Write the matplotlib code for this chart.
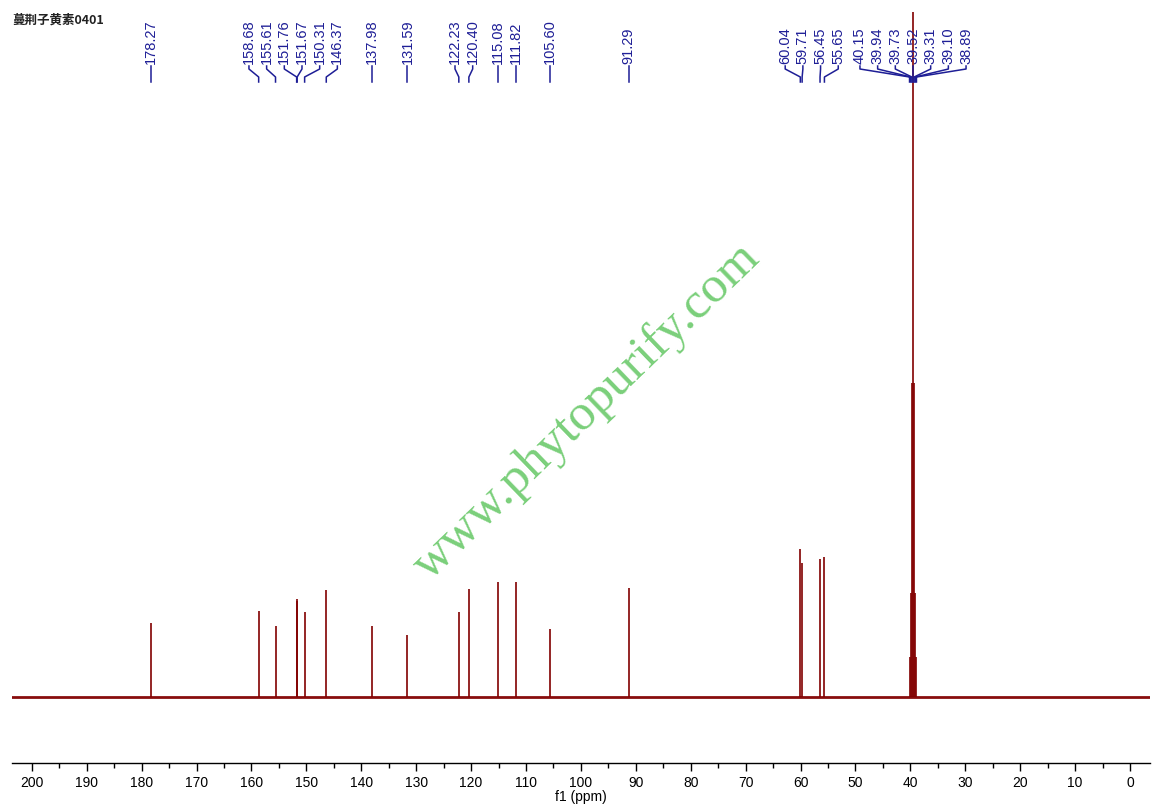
"""13C NMR spectrum of vitexicarpin with peak labels"""
import matplotlib
matplotlib.use('Agg')
import matplotlib.pyplot as plt
import matplotlib.transforms as mtransforms
from matplotlib.lines import Line2D
from matplotlib.ticker import MultipleLocator

W, H = 1159, 805

title = '蔓荆子黄素0401'
x_label = 'f1 (ppm)'
watermark = 'www.phytopurify.com'

# peak shifts (ppm) and heights (arbitrary units)
peak_ppm = [178.27, 158.68, 155.61, 151.76, 151.67, 150.31, 146.37, 137.98,
            131.59, 122.23, 120.40, 115.08, 111.82, 105.60, 91.29,
            60.04, 59.71, 56.45, 55.65,
            40.15, 39.94, 39.73, 39.52, 39.31, 39.10, 38.89]
peak_height = [74, 86, 71, 98, 96, 85, 107, 71,
               62, 85, 108, 115, 115, 68, 109,
               148, 134, 138, 140,
               40, 104, 314, 900, 314, 104, 40]

x_ticks = list(range(0, 201, 10))

SPEC_COLOR = '#820000'
LABEL_COLOR = '#1e1e96'
LABEL_GAP = 3.22  # ppm between neighbouring labels


def spread_labels(ppms, gap):
    """Push overlapping labels apart, keeping each cluster centred on its peaks"""
    clusters = [[p] for p in ppms]
    merged = True
    while merged:
        merged = False
        out = [clusters[0]]
        for c in clusters[1:]:
            prev = out[-1]
            prev_c = sum(prev) / len(prev)
            cur_c = sum(c) / len(c)
            prev_low = prev_c - (len(prev) - 1) * gap / 2
            cur_high = cur_c + (len(c) - 1) * gap / 2
            if prev_low - cur_high < gap:
                out[-1] = prev + c
                merged = True
            else:
                out.append(c)
        clusters = out
    pos = []
    for c in clusters:
        centre = sum(c) / len(c)
        top = centre + (len(c) - 1) * gap / 2
        pos += [top - i * gap for i in range(len(c))]
    return pos


plt.rcParams['font.family'] = ['Liberation Sans', 'DejaVu Sans']

fig = plt.figure(figsize=(W / 100, H / 100), dpi=100)
ax = fig.add_axes([12 / W, (H - 763) / H, (1150 - 12) / W, (763 - 12) / H])

ax.axhline(0, color=SPEC_COLOR, lw=2.0, alpha=0.95)
ax.vlines(peak_ppm, 0, peak_height, color=SPEC_COLOR, lw=1.2)

ax.set_xlim(203.6, -3.64)
ax.set_ylim(-66, 685)

for side in ('top', 'left', 'right'):
    ax.spines[side].set_visible(False)
ax.spines['bottom'].set_linewidth(1.0)
ax.set_yticks([])
ax.set_xticks(x_ticks)
ax.xaxis.set_minor_locator(MultipleLocator(5))
ax.tick_params(axis='x', which='major', length=6, width=1, pad=3, labelsize=10)
ax.tick_params(axis='x', which='minor', length=3.5, width=1)
ax.set_xlabel(x_label, fontsize=10, labelpad=0)

# peak labels above the spectrum
trans = mtransforms.blended_transform_factory(ax.transData, fig.transFigure)
label_pos = spread_labels(peak_ppm, LABEL_GAP)


def fy(py):
    return 1 - py / H


for p, lx in zip(peak_ppm, label_pos):
    ax.text(lx, fy(64), f'{p:.2f}', rotation=90, ha='center', va='bottom',
            fontsize=10.5, color=LABEL_COLOR, transform=trans, clip_on=False)
    line = Line2D([lx, lx, p, p], [fy(66), fy(69), fy(77), fy(82)],
                  transform=trans, color=LABEL_COLOR, lw=1.1, clip_on=False)
    ax.add_line(line)

fig.text(12 / W, fy(20), title, fontsize=9, fontweight='bold', va='center',
         family=['Noto Sans CJK SC', 'DejaVu Sans'], color='#222222')

fig.text(587 / W, fy(412), watermark, rotation=44, ha='center', va='center',
         fontsize=37, color='#7acf7a', family=['Liberation Serif', 'DejaVu Serif'])

fig.savefig('out.png', dpi=100)
plt.close(fig)
